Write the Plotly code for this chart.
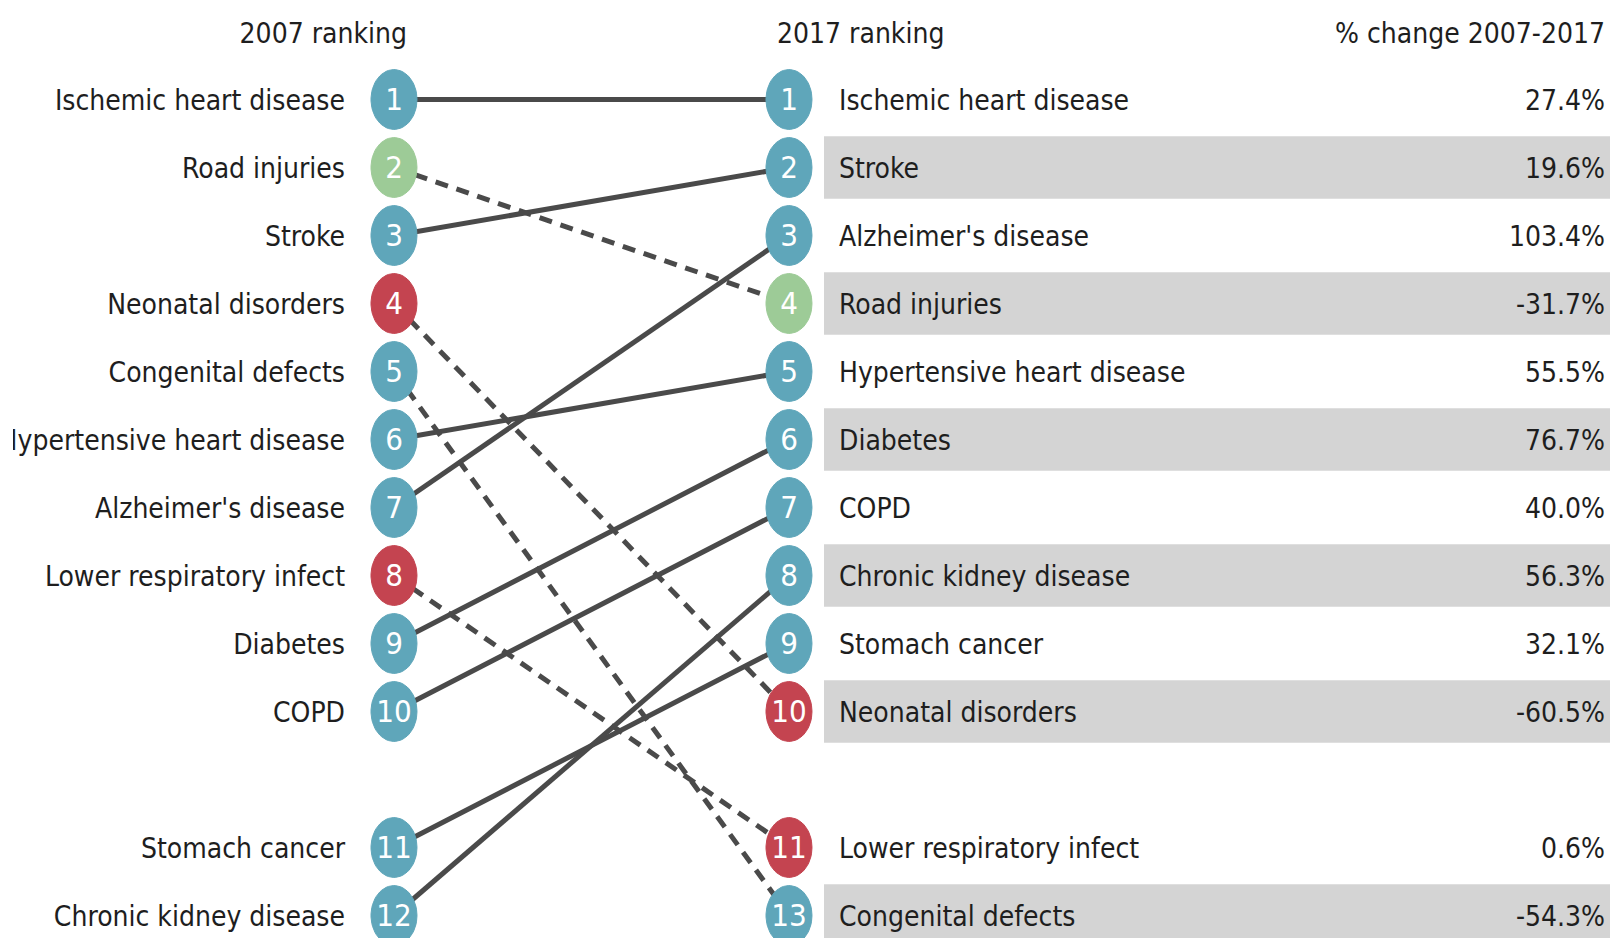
import numpy as np
import plotly.graph_objects as go

# ---------------- data ----------------
causes = ["Ischemic heart disease", "Road injuries", "Stroke", "Neonatal disorders",
          "Congenital defects", "Hypertensive heart disease", "Alzheimer's disease",
          "Lower respiratory infect", "Diabetes", "COPD", "Stomach cancer",
          "Chronic kidney disease"]
rank_2007 = [1, 2, 3, 4, 5, 6, 7, 8, 9, 10, 11, 12]
rank_2017 = [1, 4, 2, 10, 13, 5, 3, 11, 6, 7, 9, 8]
pct_change = [27.4, -31.7, 19.6, -60.5, -54.3, 55.5, 103.4, 0.6, 76.7, 40.0, 32.1, 56.3]
category = ["ncd", "inj", "ncd", "cmnn", "ncd", "ncd", "ncd", "cmnn", "ncd", "ncd", "ncd", "ncd"]
headers = ["2007 ranking", "2017 ranking", "% change 2007-2017"]

# ---------------- styles ----------------
COLORS = {"ncd": "#5FA6BA", "inj": "#9DCB97", "cmnn": "#C44450"}
FONT = "DejaVu Sans Condensed, Liberation Sans Narrow, sans-serif"
FS = 28
FS_NUM = 31
TXT = "#1e1e1e"
LINE = "#4a4a4a"
X_LEFT, X_RIGHT = 394, 789
X_LLABEL, X_RLABEL, X_PCT = 345, 839, 1605
RX, RY = 23, 0.44
W, H = 1610, 938
L_MARGIN = 13
ROW_PX = 68.0
ROW0 = 1 - 99.5 / ROW_PX
TXT_DY = 3.0 / ROW_PX


def rows_for(ranks):
    extra = sorted(r for r in ranks if r > 10)
    return [r if r <= 10 else 11 + extra.index(r) + 1 for r in ranks]


row_07 = rows_for(rank_2007)
row_17 = rows_for(rank_2017)

fig = go.Figure()

# grey alternating bands on the right (by 2017 order)
order17 = sorted(range(len(causes)), key=lambda i: rank_2017[i])
for k, i in enumerate(order17):
    if k % 2 == 1:
        fig.add_shape(type="rect", xref="x", yref="y", x0=824, x1=W,
                      y0=row_17[i] - 0.46, y1=row_17[i] + 0.46,
                      fillcolor="#d4d4d4", line_width=0, layer="below")

# connecting lines
for i in range(len(causes)):
    dashed = rank_2017[i] > rank_2007[i]
    fig.add_trace(go.Scatter(
        x=[X_LEFT, X_RIGHT], y=[row_07[i], row_17[i]], mode="lines",
        line=dict(color=LINE, width=5, dash="13px,9px" if dashed else "solid"),
        hoverinfo="skip", showlegend=False))

# ellipses
t = np.linspace(0, 2 * np.pi, 60)
for cat, col in COLORS.items():
    xs, ys = [], []
    for i in range(len(causes)):
        if category[i] != cat:
            continue
        for cx, cy in ((X_LEFT, row_07[i]), (X_RIGHT, row_17[i])):
            xs += list(cx + RX * np.cos(t)) + [None]
            ys += list(cy + RY * np.sin(t)) + [None]
    fig.add_trace(go.Scatter(x=xs, y=ys, mode="lines", fill="toself",
                             fillcolor=col, line=dict(color=col, width=1),
                             hoverinfo="skip", showlegend=False))

# rank numbers
fig.add_trace(go.Scatter(
    x=[X_LEFT] * len(causes) + [X_RIGHT] * len(causes),
    y=[r + TXT_DY for r in row_07 + row_17],
    text=[str(r) for r in rank_2007] + [str(r) for r in rank_2017],
    mode="text", textposition="middle center",
    textfont=dict(family=FONT, size=FS_NUM, color="white"),
    hoverinfo="skip", showlegend=False, cliponaxis=False))

# left labels
fig.add_trace(go.Scatter(
    x=[X_LLABEL] * len(causes), y=[r + TXT_DY for r in row_07], text=causes, mode="text",
    textposition="middle left", textfont=dict(family=FONT, size=FS, color=TXT),
    hoverinfo="skip", showlegend=False, cliponaxis=True))

# right labels
fig.add_trace(go.Scatter(
    x=[X_RLABEL] * len(causes), y=[r + TXT_DY for r in row_17], text=causes, mode="text",
    textposition="middle right", textfont=dict(family=FONT, size=FS, color=TXT),
    hoverinfo="skip", showlegend=False, cliponaxis=False))

# percent change
fig.add_trace(go.Scatter(
    x=[X_PCT] * len(causes), y=[r + TXT_DY for r in row_17],
    text=[f"{v:.1f}%" for v in pct_change],
    mode="text", textposition="middle left",
    textfont=dict(family=FONT, size=FS, color=TXT),
    hoverinfo="skip", showlegend=False, cliponaxis=False))

# headers
hy = ROW0 + 36 / ROW_PX
fig.add_trace(go.Scatter(
    x=[407, 777, X_PCT], y=[hy] * 3, text=headers, mode="text",
    textposition=["middle left", "middle right", "middle left"],
    textfont=dict(family=FONT, size=FS, color=TXT),
    hoverinfo="skip", showlegend=False, cliponaxis=False))

fig.update_layout(
    width=W, height=H, margin=dict(l=L_MARGIN, r=0, t=0, b=0),
    paper_bgcolor="white", plot_bgcolor="white",
    xaxis=dict(range=[L_MARGIN, W], visible=False, fixedrange=True),
    yaxis=dict(range=[ROW0 + H / ROW_PX, ROW0], visible=False, fixedrange=True),
)

fig.write_html("out.html", config={"displayModeBar": False},
               post_script="document.body.style.margin='0';document.body.style.overflow='hidden';")
